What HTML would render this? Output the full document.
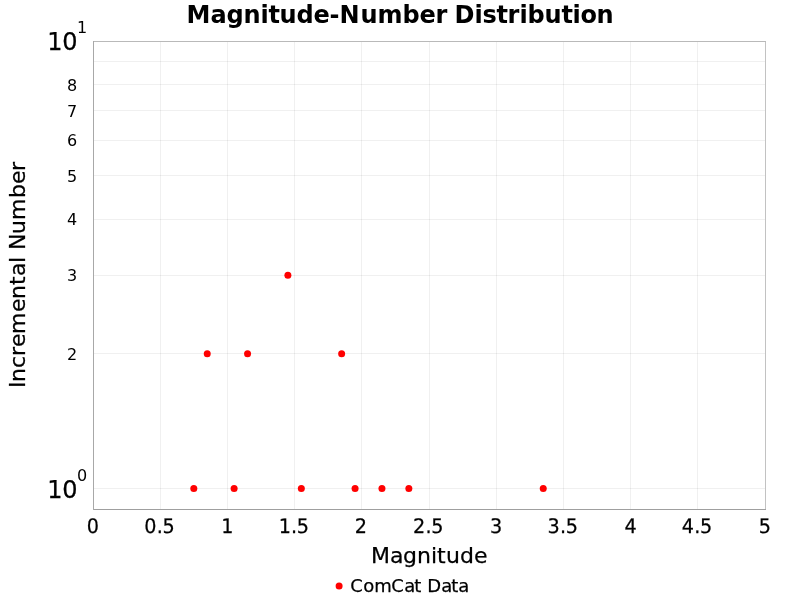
<!DOCTYPE html>
<html lang="en"><head><meta charset="utf-8"><title>Magnitude-Number Distribution</title>
<style>html,body{margin:0;padding:0;background:#fff;overflow:hidden}svg{display:block;will-change:transform}text{font-family:"DejaVu Sans","Liberation Sans",sans-serif;fill:#000;font-kerning:none}.r{stroke:#000;stroke-width:0.25px;stroke-linejoin:round}</style></head><body>
<svg width="800" height="600" viewBox="0 0 800 600">
<rect width="800" height="600" fill="#fff"/>
<g stroke="#000" stroke-opacity="0.06" stroke-width="1" shape-rendering="crispEdges">
<line x1="160.5" y1="41.5" x2="160.5" y2="509.5"/>
<line x1="227.5" y1="41.5" x2="227.5" y2="509.5"/>
<line x1="294.5" y1="41.5" x2="294.5" y2="509.5"/>
<line x1="361.5" y1="41.5" x2="361.5" y2="509.5"/>
<line x1="429.5" y1="41.5" x2="429.5" y2="509.5"/>
<line x1="496.5" y1="41.5" x2="496.5" y2="509.5"/>
<line x1="563.5" y1="41.5" x2="563.5" y2="509.5"/>
<line x1="630.5" y1="41.5" x2="630.5" y2="509.5"/>
<line x1="697.5" y1="41.5" x2="697.5" y2="509.5"/>
<line x1="93.5" y1="488.5" x2="765.5" y2="488.5"/>
<line x1="93.5" y1="353.5" x2="765.5" y2="353.5"/>
<line x1="93.5" y1="275.5" x2="765.5" y2="275.5"/>
<line x1="93.5" y1="219.5" x2="765.5" y2="219.5"/>
<line x1="93.5" y1="175.5" x2="765.5" y2="175.5"/>
<line x1="93.5" y1="140.5" x2="765.5" y2="140.5"/>
<line x1="93.5" y1="110.5" x2="765.5" y2="110.5"/>
<line x1="93.5" y1="84.5" x2="765.5" y2="84.5"/>
<line x1="93.5" y1="61.5" x2="765.5" y2="61.5"/>
</g>
<g fill="none" stroke-width="1" shape-rendering="crispEdges">
<path d="M93.0 41.5H766.0" stroke="#b9b9b9"/>
<path d="M765.5 42.0V509.0" stroke="#c2c2c2"/>
<path d="M93.5 41.0V510.0" stroke="#a8a8a8"/>
<path d="M94.0 509.5H766.0" stroke="#9f9f9f"/>
</g>
<g fill="#ff0000">
<circle cx="193.80" cy="488.40" r="3.5"/>
<circle cx="207.24" cy="353.84" r="3.5"/>
<circle cx="234.12" cy="488.40" r="3.5"/>
<circle cx="247.56" cy="353.84" r="3.5"/>
<circle cx="287.88" cy="275.13" r="3.5"/>
<circle cx="301.32" cy="488.40" r="3.5"/>
<circle cx="341.64" cy="353.84" r="3.5"/>
<circle cx="355.08" cy="488.40" r="3.5"/>
<circle cx="381.96" cy="488.40" r="3.5"/>
<circle cx="408.84" cy="488.40" r="3.5"/>
<circle cx="543.24" cy="488.40" r="3.5"/>
</g>
<text x="186.5 210.5 226.5 243.5 260.5 268.5 279.5 296.5 313.5 329.5 339.5 360.5 377.5 402.5 419.5 435.5 447.5 454.5 474.5 482.5 496.5 507.5 519.5 527.5 544.5 561.5 572.5 580.5 596.5" y="23" font-size="24" font-weight="bold">Magnitude-Number Distribution</text>
<text x="0" y="0" font-size="20" class="r" transform="translate(86.86,533) rotate(0.03) scale(0.96,1.0)">0</text>
<text x="0 13 19" y="0" font-size="20" class="r" transform="translate(144.24,533) rotate(0.03) scale(0.96,1.0)">0.5</text>
<text x="0" y="0" font-size="20" class="r" transform="translate(221.26,533) rotate(0.03) scale(0.96,1.0)">1</text>
<text x="0 13 19" y="0" font-size="20" class="r" transform="translate(278.64,533) rotate(0.03) scale(0.96,1.0)">1.5</text>
<text x="0" y="0" font-size="20" class="r" transform="translate(354.66,533) rotate(0.03) scale(0.96,1.0)">2</text>
<text x="0 13 19" y="0" font-size="20" class="r" transform="translate(413.04,533) rotate(0.03) scale(0.96,1.0)">2.5</text>
<text x="0" y="0" font-size="20" class="r" transform="translate(490.06,533) rotate(0.03) scale(0.96,1.0)">3</text>
<text x="0 13 19" y="0" font-size="20" class="r" transform="translate(547.44,533) rotate(0.03) scale(0.96,1.0)">3.5</text>
<text x="0" y="0" font-size="20" class="r" transform="translate(624.46,533) rotate(0.03) scale(0.96,1.0)">4</text>
<text x="0 13 19" y="0" font-size="20" class="r" transform="translate(681.84,533) rotate(0.03) scale(0.96,1.0)">4.5</text>
<text x="0" y="0" font-size="20" class="r" transform="translate(758.86,533) rotate(0.03) scale(0.96,1.0)">5</text>
<text x="371 390 403 417 431 437 446 460 474" y="563" font-size="22" class="r">Magnitude</text>
<text x="67" y="360" font-size="16" fill="#111">2</text>
<text x="67" y="281" font-size="16" fill="#111">3</text>
<text x="67" y="225" font-size="16" fill="#111">4</text>
<text x="67" y="182" font-size="16" fill="#111">5</text>
<text x="67" y="146" font-size="16" fill="#111">6</text>
<text x="67" y="117" font-size="16" fill="#111">7</text>
<text x="67" y="91" font-size="16" fill="#111">8</text>
<text x="47.3 62.3" y="49.6" font-size="24" class="r">10</text>
<text x="77" y="32.6" font-size="16" fill="#111">1</text>
<text x="47.3 62.3" y="497.6" font-size="24" class="r">10</text>
<text x="77" y="480.6" font-size="16" fill="#111">0</text>
<text x="-113 -107 -93 -81 -72 -59 -37 -24 -10 -1 12 18 25 41 55 77 91 104" y="0" font-size="22" class="r" transform="translate(25,275) rotate(-90)">Incremental Number</text>
<circle cx="339.1" cy="585.9" r="3.5" fill="#ff0000"/>
<text x="350.14 363.14 374.14 391.14 404.14 414.14 421.14 427.14 441.14 451.14 458.14" y="591.5" font-size="18" class="r">ComCat Data</text>
</svg></body></html>
